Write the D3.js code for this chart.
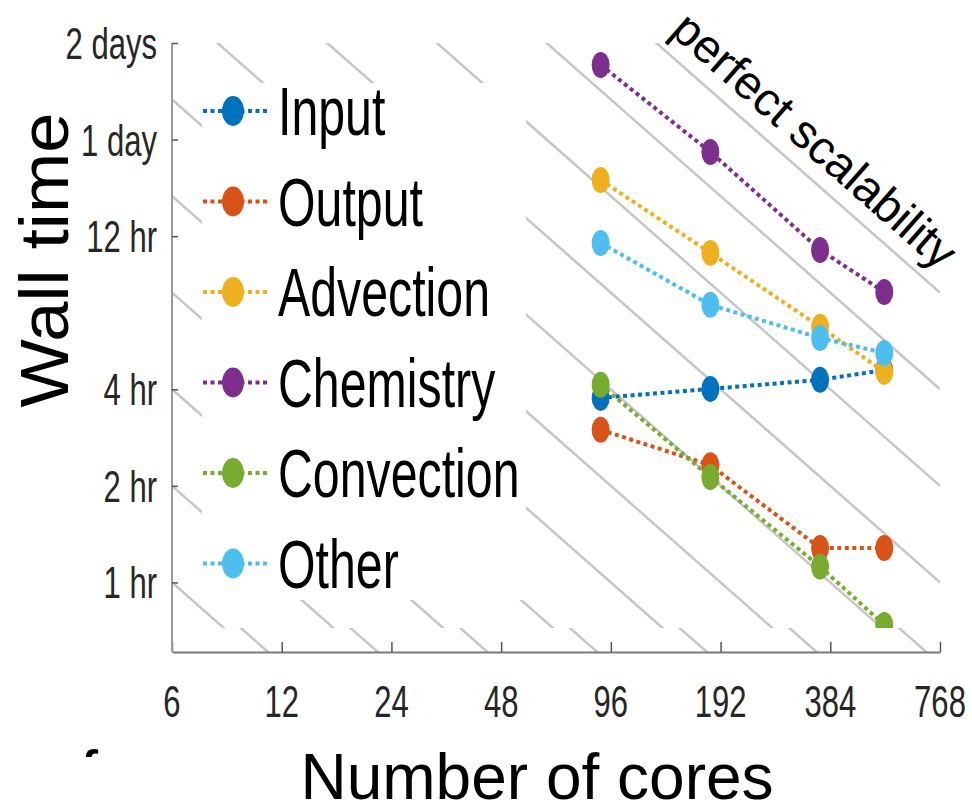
<!DOCTYPE html>
<html>
<head>
<meta charset="utf-8">
<script src="https://cdn.jsdelivr.net/npm/d3@7"></script>
<style>
  body { margin: 0; background: #fff; }
  text { font-family: "Liberation Sans", Arial, sans-serif; }
</style>
</head>
<body>
<svg id="chart" width="972" height="806"></svg>
<script>
// data (wall time in hours)
var cores = [90, 180, 360, 540];
var seriesNames = ["Input", "Output", "Advection", "Chemistry", "Convection", "Other"];
var inputHours = [3.76, 4.01, 4.28, 4.59];
var outputHours = [2.99, 2.32, 1.28, 1.28];
var advectionHours = [17.96, 10.64, 6.26, 4.53];
var chemistryHours = [41.0, 21.96, 10.87, 8.04];
var convectionHours = [4.13, 2.13, 1.12, 0.737];
var otherHours = [11.43, 7.33, 5.78, 5.19];
var seriesColors = ["#0072BD", "#D95319", "#EDB120", "#7E2F8E", "#77AC30", "#4DBEEE"];

var xTicks = [6, 12, 24, 48, 96, 192, 384, 768];
var xTickLabels = ["6", "12", "24", "48", "96", "192", "384", "768"];
var yTicks = [1, 2, 4, 12, 24, 48];
var yTickLabels = ["1 hr", "2 hr", "4 hr", "12 hr", "1 day", "2 days"];

// core-hours of each "perfect scalability" guide line
var guideLevels = [3, 6, 12, 24, 48, 96, 192, 384, 768, 1536, 3072, 6144];

var allHours = [inputHours, outputHours, advectionHours, chemistryHours, convectionHours, otherHours];

var svg = d3.select("#chart");

var plotLeft = 172, plotRight = 940, plotTop = 43, plotBottom = 667; // bottom before the strip shift
var cutY = 628, shift = 15;

var x = d3.scaleLog().domain([6, 768]).range([plotLeft, plotRight]);
var y = d3.scaleLog().domain([0.545, 48]).range([plotBottom, plotTop]);

var defs = svg.append("defs");
defs.append("clipPath").attr("id", "clipMain")
  .append("rect").attr("x", plotLeft).attr("y", plotTop).attr("width", plotRight - plotLeft).attr("height", cutY - plotTop);
defs.append("clipPath").attr("id", "clipStrip")
  .append("rect").attr("x", plotLeft).attr("y", cutY + shift).attr("width", plotRight - plotLeft).attr("height", plotBottom - cutY - shift);
defs.append("clipPath").attr("id", "clipF")
  .append("rect").attr("x", 60).attr("y", 740).attr("width", 60).attr("height", 17);

var line = d3.line()
  .x(function(d) { return x(d[0]); })
  .y(function(d) { return y(d[1]); });

function drawContent(g) {
  // perfect scalability guides: time = level / cores
  g.selectAll(".guide")
    .data(guideLevels)
    .enter()
    .append("path")
    .attr("class", "guide")
    .attr("d", function(c) { return line([[6, c / 6], [768, c / 768]]); })
    .attr("fill", "none")
    .attr("stroke", "#c6c6c6")
    .attr("stroke-width", 2.5);

  allHours.forEach(function(hours, i) {
    var pts = cores.map(function(c, j) { return [c, hours[j]]; });
    g.append("path")
      .attr("d", line(pts))
      .attr("fill", "none")
      .attr("stroke", seriesColors[i])
      .attr("stroke-width", 4)
      .attr("stroke-dasharray", "4,3.5");
    g.selectAll(".pt" + i)
      .data(pts)
      .enter()
      .append("ellipse")
      .attr("cx", function(d) { return x(d[0]); })
      .attr("cy", function(d) { return y(d[1]); })
      .attr("rx", 9)
      .attr("ry", 13)
      .attr("fill", seriesColors[i]);
  });
}

var main = svg.append("g").attr("clip-path", "url(#clipMain)");
drawContent(main);

// the bottom strip of the plot sits a little higher than the rest
var strip = svg.append("g").attr("transform", "translate(0," + (-shift) + ")");
drawContent(strip.append("g").attr("clip-path", "url(#clipStrip)"));

var xAxis = strip.append("g")
  .attr("transform", "translate(0," + plotBottom + ")")
  .call(d3.axisBottom(x).tickValues(xTicks).tickSizeInner(-10).tickSizeOuter(0).tickFormat(""));
xAxis.select(".domain").attr("stroke", "#7a7a7a").attr("stroke-width", 2);
xAxis.selectAll(".tick line").attr("stroke", "#555").attr("stroke-width", 1.5);

// y axis
svg.append("line")
  .attr("x1", plotLeft).attr("x2", plotLeft)
  .attr("y1", plotTop).attr("y2", plotBottom - shift)
  .attr("stroke", "#9a9a9a").attr("stroke-width", 2);
var yAxis = svg.append("g")
  .attr("transform", "translate(" + plotLeft + ",0)")
  .call(d3.axisLeft(y).tickValues(yTicks).tickSizeInner(-6).tickSizeOuter(0).tickFormat(""));
yAxis.select(".domain").remove();
yAxis.selectAll(".tick line").attr("stroke", "#555").attr("stroke-width", 1.5);

// condensed text helper
function ctext(g, px, py, str, size, anchor, sx) {
  return g.append("text")
    .attr("transform", "translate(" + px + "," + py + ") scale(" + sx + ",1)")
    .attr("text-anchor", anchor)
    .style("font-size", size + "px")
    .text(str);
}

xTicks.forEach(function(t, i) {
  ctext(svg, x(t), 717, xTickLabels[i], 45, "middle", 0.69).attr("fill", "#262626");
});
yTicks.forEach(function(t, i) {
  ctext(svg, 157, y(t) + 16, yTickLabels[i], 45, "end", 0.69).attr("fill", "#262626");
});

// legend
var legend = svg.append("g");
legend.append("rect")
  .attr("x", 202).attr("y", 83).attr("width", 324).attr("height", 517)
  .attr("fill", "#fff");
seriesNames.forEach(function(name, i) {
  var ly = 111 + i * 90.5;
  legend.append("line")
    .attr("x1", 203).attr("x2", 267).attr("y1", ly).attr("y2", ly)
    .attr("stroke", seriesColors[i]).attr("stroke-width", 4).attr("stroke-dasharray", "4,3.5");
  legend.append("ellipse")
    .attr("cx", 233).attr("cy", ly).attr("rx", 11).attr("ry", 15)
    .attr("fill", seriesColors[i]);
  ctext(legend, 278, ly + 24, name, 68, "start", 0.71).attr("fill", "#000");
});

// perfect scalability label
var ang = Math.atan2(y(24) - y(48), x(12) - x(6)) * 180 / Math.PI;
svg.append("text")
  .attr("transform", "translate(815,140) rotate(" + ang + ")")
  .attr("text-anchor", "middle")
  .attr("dy", "0.35em")
  .style("font-size", "47px")
  .text("perfect scalability");

// axis titles
svg.append("text")
  .attr("x", 537).attr("y", 799)
  .attr("text-anchor", "middle")
  .style("font-size", "64px")
  .text("Number of cores");

svg.append("text")
  .attr("transform", "translate(68,260) rotate(-90)")
  .attr("text-anchor", "middle")
  .attr("textLength", 295)
  .attr("lengthAdjust", "spacingAndGlyphs")
  .style("font-size", "68px")
  .text("Wall time");

// stray top of a panel letter at the lower left
svg.append("text")
  .attr("x", 80).attr("y", 796)
  .attr("clip-path", "url(#clipF)")
  .style("font-size", "65px")
  .text("f");
</script>
</body>
</html>
